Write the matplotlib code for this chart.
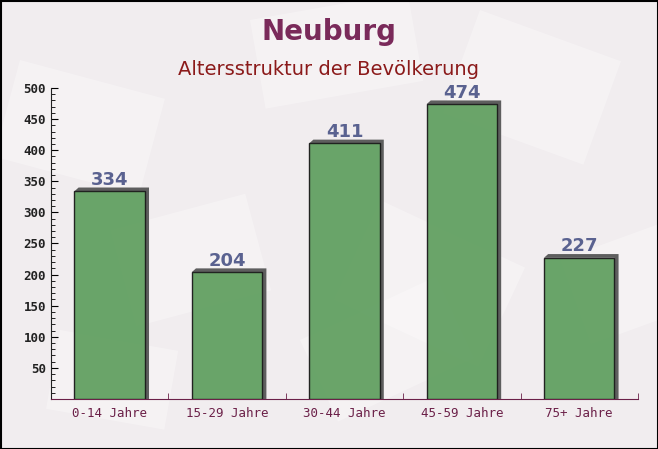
import numpy as np
import matplotlib.pyplot as plt
from matplotlib.patches import Rectangle, Polygon
from matplotlib.ticker import MultipleLocator

categories = ["0-14 Jahre", "15-29 Jahre", "30-44 Jahre", "45-59 Jahre", "75+ Jahre"]
values = [334, 204, 411, 474, 227]

fig = plt.figure(figsize=(6.58, 4.49), dpi=100)
fig.patch.set_facecolor("#f1edef")

# faint background shapes
bg = fig.add_axes([0, 0, 1, 1], zorder=0)
bg.set_xlim(0, 658)
bg.set_ylim(449, 0)
bg.axis("off")
shapes = [(20, 60, 150, 100, 15), (250, 20, 160, 90, -10), (480, 10, 150, 110, 20),
          (110, 230, 140, 100, -15), (380, 200, 160, 110, 25), (560, 260, 120, 90, -20),
          (60, 330, 120, 80, 10), (300, 340, 150, 90, -25)]
for x, y, w, h, a in shapes:
    t = np.radians(a)
    c, s = np.cos(t), np.sin(t)
    pts = [(x + px * c - py * s, y + px * s + py * c) for px, py in [(0, 0), (w, 0), (w, h), (0, h)]]
    bg.add_patch(Polygon(pts, closed=True, facecolor="white", alpha=0.3, edgecolor="none"))
bg.add_patch(Rectangle((0.5, 0.5), 657, 448, fill=False, edgecolor="black", linewidth=1.5))

ax = fig.add_axes([0.0775, 0.1114, 0.892, 0.6926], zorder=1)
ax.patch.set_alpha(0)

x = np.arange(len(categories))
w = 0.6
# shadows
for xi, v in zip(x, values):
    ax.add_patch(Polygon([(xi - w / 2, v), (xi - w / 2 + 0.035, v + 6), (xi + w / 2 + 0.035, v + 6),
                          (xi + w / 2 + 0.035, 0), (xi + w / 2, 0), (xi + w / 2, v)],
                         closed=True, facecolor="#5e5e5e", edgecolor="none", zorder=2))
ax.bar(x, values, width=w, color="#62a062", edgecolor="#1a1a1a", linewidth=1, zorder=3, alpha=0.95)

for xi, v in zip(x, values):
    ax.text(xi, v + 4, str(v), ha="center", va="bottom", fontsize=13, fontweight="bold",
            color="#5a6290", family="DejaVu Sans")

ax.set_xlim(-0.5, len(categories) - 0.5)
ax.set_ylim(0, 500)
ax.set_xticks(x)
ax.set_xticklabels(categories, family="DejaVu Sans Mono", fontsize=9, color="#6b2048")
ax.set_xticks(np.arange(len(categories)) + 0.5, minor=True)
ax.tick_params(axis="x", which="major", length=0, pad=6)
ax.tick_params(axis="x", which="minor", length=4, color="#6b2048", direction="in")
ax.yaxis.set_major_locator(MultipleLocator(50))
ax.yaxis.set_minor_locator(MultipleLocator(10))
ax.set_yticks([50, 100, 150, 200, 250, 300, 350, 400, 450, 500])
ax.tick_params(axis="y", which="major", length=5, direction="in", labelsize=9)
ax.tick_params(axis="y", which="minor", length=3, direction="in")
for lab in ax.get_yticklabels():
    lab.set_family("DejaVu Sans Mono")
    lab.set_fontweight("bold")
    lab.set_color("#222222")
ax.spines["top"].set_visible(False)
ax.spines["right"].set_visible(False)
ax.spines["left"].set_color("#222222")
ax.spines["bottom"].set_color("#6b2048")

fig.text(0.5, 0.928, "Neuburg", ha="center", va="center", fontsize=20, fontweight="bold", color="#7a2a5a")
fig.text(0.5, 0.846, "Altersstruktur der Bevölkerung", ha="center", va="center", fontsize=14, color="#8b1a1a")

fig.savefig("out.png", dpi=100, facecolor=fig.get_facecolor())
